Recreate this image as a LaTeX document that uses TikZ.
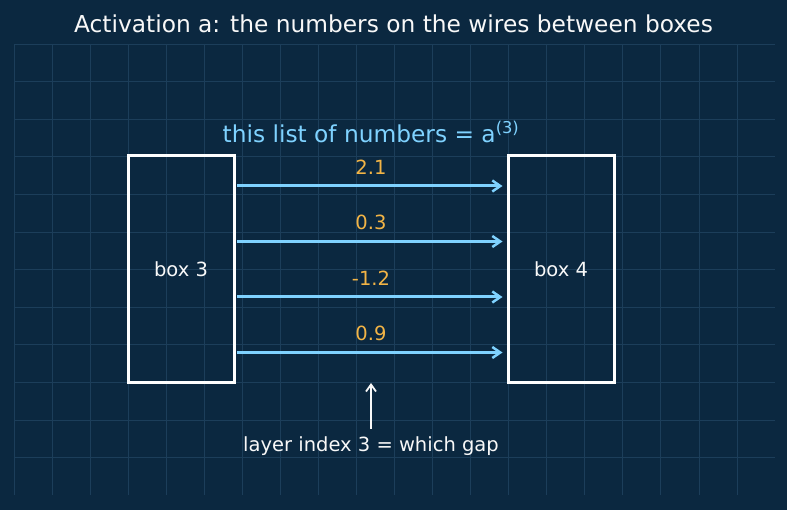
\documentclass[tikz,border=0pt]{standalone}
\usepackage{fontspec}
\setmainfont{DejaVu Sans}
\usetikzlibrary{arrows.meta}
\definecolor{bg}{HTML}{0B2840}
\definecolor{gridc}{HTML}{1C3E5A}
\definecolor{wire}{HTML}{7FD2FF}
\definecolor{val}{HTML}{F2B446}
\definecolor{txt}{HTML}{F8F8F8}
\tikzset{
  boxnode/.style={draw=white, line width=3pt, minimum width=106pt, minimum height=227pt, inner sep=0pt, text=txt, font=\fontsize{19.5}{22}\selectfont},
  wirearrow/.style={draw=wire, line width=3pt, -{Straight Barb[length=8pt,width=11pt,line width=2.5pt]}, shorten >=4pt, shorten <=1.5pt},
  valnode/.style={text=val, font=\fontsize{19.5}{22}\selectfont, inner sep=0pt},
  gridline/.style={draw=gridc, line width=0.8pt}
}
\begin{document}
\begin{tikzpicture}[x=1pt,y=-1pt]
\fill[bg] (0,0) rectangle (787,510);
\useasboundingbox (0,0) rectangle (787,510);
% grid
\foreach \i in {0,...,19} { \draw[gridline] ({14+38.05*\i},44) -- ({14+38.05*\i},495); }
\foreach \j in {0,...,11} { \draw[gridline] (14,{44+37.6*\j}) -- (775,{44+37.6*\j}); }
% title
\node[text=txt, font=\fontsize{23.3}{26}\selectfont] (title) at (393.5,24) {Activation a: the numbers on the wires between boxes};
\node[text=wire, font=\fontsize{23.3}{26}\selectfont] (list) at (371,131.5) {this list of numbers = a\textsuperscript{(3)}};
% boxes
\node[boxnode] (box3) at (181,269.5) {box 3};
\node[boxnode] (box4) at (561,269.5) {box 4};
% wires
\foreach \y/\v/\n in {186/2.1/a, 241.5/0.3/b, 297/-1.2/c, 352.5/0.9/d} {
  \coordinate (s\n) at (box3.east |- 0,\y);
  \coordinate (e\n) at (box4.west |- 0,\y);
  \draw[wirearrow] (s\n) -- (e\n);
  \node[valnode] (v\n) at (371,{\y-19}) {\v};
}
% bottom annotation
\node[text=txt, font=\fontsize{19.5}{22}\selectfont] (note) at (371,446.5) {layer index 3 = which gap};
\coordinate (gap) at (371,383);
\draw[draw=txt, line width=2pt, -{Straight Barb[length=7pt,width=10pt,line width=1.8pt]}] (note.north |- 0,429) -- (gap);
\end{tikzpicture}
\end{document}
